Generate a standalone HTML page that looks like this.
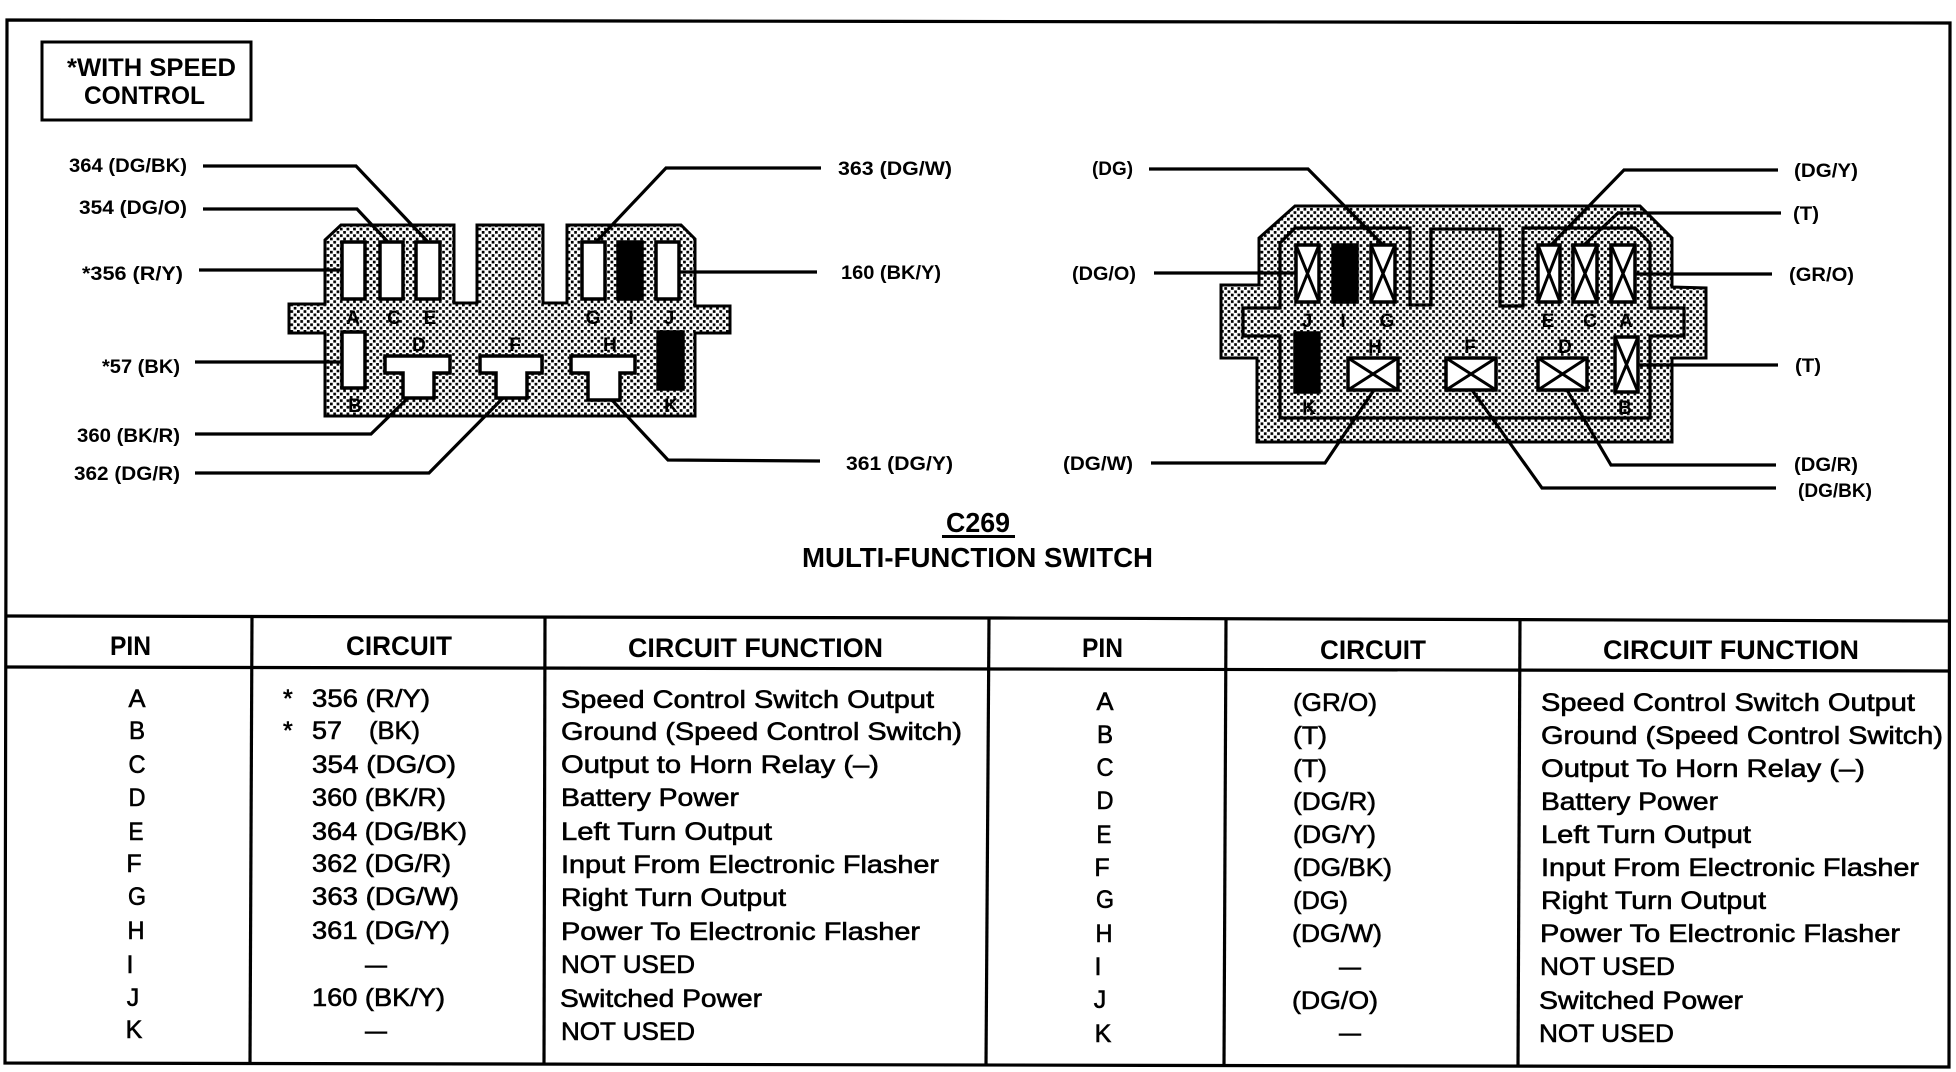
<!DOCTYPE html>
<html><head><meta charset="utf-8"><title>C269 Multi-Function Switch</title>
<style>
html,body{margin:0;padding:0;background:#fff}
svg{display:block}
text{font-family:"Liberation Sans",Arial,sans-serif;fill:#000}
.n{font-size:25px;stroke:#000;stroke-width:.6px}
.h{font-size:27px;font-weight:bold}
.l{font-size:19px;font-weight:bold}
.p{font-size:19px;font-weight:bold;text-anchor:middle}
.w{fill:none;stroke:#000;stroke-width:3.2;stroke-linejoin:miter}
.c{text-anchor:middle}
.pin{fill:#fff;stroke:#000;stroke-width:3.5}
.x{stroke:#000;stroke-width:3;fill:none}
</style></head><body>
<svg xmlns="http://www.w3.org/2000/svg" width="1956" height="1072" viewBox="0 0 1956 1072">
<defs>
<pattern id="s" width="6.6" height="6.6" patternUnits="userSpaceOnUse">
<rect width="6.6" height="6.6" fill="#fff"/>
<rect x="0" y="0" width="2.7" height="2.7" fill="#000"/>
<rect x="3.3" y="3.3" width="2.7" height="2.7" fill="#000"/>
</pattern>
</defs>
<rect width="1956" height="1072" fill="#fff"/>

<!-- frame -->
<polygon class="w" points="7,20 1950,23 1949,1067 5,1063"/>
<!-- note box -->
<rect x="42" y="42" width="209" height="78" fill="#fff" stroke="#000" stroke-width="3"/>
<text x="67" y="76" font-size="25" font-weight="bold" textLength="169" lengthAdjust="spacingAndGlyphs">*WITH SPEED</text>
<text x="84" y="104" font-size="25" font-weight="bold" textLength="121" lengthAdjust="spacingAndGlyphs">CONTROL</text>

<!-- left connector -->
<polygon points="325,240 341,225 454,225 454,303 477,303 477,225 543,225 543,303 567,303 567,225 681,225 695,239 695,306 730,306 730,333 695,333 695,416 325,416 325,333 289,333 289,304 325,304" fill="url(#s)" stroke="#000" stroke-width="3"/>
<g class="pin">
<rect x="342" y="242" width="23" height="57"/>
<rect x="380" y="242" width="23" height="57"/>
<rect x="416" y="242" width="24" height="57"/>
<rect x="582" y="242" width="23" height="57"/>
<rect x="618" y="242" width="24" height="57" fill="#000"/>
<rect x="656" y="242" width="23" height="57"/>
<rect x="342" y="332" width="23" height="56"/>
<rect x="658" y="332" width="25" height="57" fill="#000"/>
<polygon points="385,356 450,356 450,373 434,373 434,398 403,398 403,373 385,373"/>
<polygon points="480,356 542,356 542,373 527,373 527,398 496,398 496,373 480,373"/>
<polygon points="571,356 635,356 635,373 620,373 620,400 588,400 588,373 571,373"/>
</g>
<text class="p" x="353" y="324">A</text><text class="p" x="394" y="324">C</text><text class="p" x="430" y="324">E</text>
<text class="p" x="593" y="324">G</text><text class="p" x="631" y="324">I</text><text class="p" x="669" y="324">J</text>
<text class="p" x="419" y="351">D</text><text class="p" x="515" y="351">F</text><text class="p" x="610" y="351">H</text>
<text class="p" x="355" y="412">B</text><text class="p" x="671" y="412">K</text>

<!-- left connector leaders -->
<g class="w">
<polyline points="203,166 356,166 428,242"/>
<polyline points="203,209 357,209 388,242"/>
<polyline points="199,270 341,270"/>
<polyline points="195,362 341,362"/>
<polyline points="195,434 371,434 408,398"/>
<polyline points="195,473 429,473 503,398"/>
<polyline points="596,242 666,168 821,168"/>
<polyline points="679,272 817,272"/>
<polyline points="612,400 668,460 820,461"/>
</g>
<g class="l">
<text x="69" y="172" textLength="118" lengthAdjust="spacingAndGlyphs">364 (DG/BK)</text>
<text x="79" y="214" textLength="108" lengthAdjust="spacingAndGlyphs">354 (DG/O)</text>
<text x="82" y="280" textLength="101" lengthAdjust="spacingAndGlyphs">*356 (R/Y)</text>
<text x="102" y="373" textLength="78" lengthAdjust="spacingAndGlyphs">*57 (BK)</text>
<text x="77" y="442" textLength="103" lengthAdjust="spacingAndGlyphs">360 (BK/R)</text>
<text x="74" y="480" textLength="106" lengthAdjust="spacingAndGlyphs">362 (DG/R)</text>
<text x="838" y="175" textLength="114" lengthAdjust="spacingAndGlyphs">363 (DG/W)</text>
<text x="841" y="279" textLength="100" lengthAdjust="spacingAndGlyphs">160 (BK/Y)</text>
<text x="846" y="470" textLength="107" lengthAdjust="spacingAndGlyphs">361 (DG/Y)</text>
</g>

<!-- right connector -->
<polygon points="1295,206 1640,206 1672,238 1672,287 1706,288 1706,358 1672,358 1672,442 1257,442 1257,358 1221,358 1221,285 1259,285 1259,238" fill="url(#s)" stroke="#000" stroke-width="3"/>
<polygon class="w" points="1410,228 1295,228 1280,243 1280,308 1243,308 1243,336 1280,336 1280,418 1650,418 1650,336 1684,336 1684,308 1650,308 1650,243 1635,228 1523,228 1523,306 1500,306 1500,229 1431,229 1431,305 1410,305"/>
<g class="pin">
<rect x="1296" y="245" width="23" height="57"/>
<rect x="1333" y="245" width="24" height="57" fill="#000"/>
<rect x="1371" y="245" width="24" height="57"/>
<rect x="1538" y="245" width="22" height="57"/>
<rect x="1573" y="245" width="24" height="57"/>
<rect x="1611" y="245" width="24" height="57"/>
<rect x="1615" y="337" width="23" height="55"/>
<rect x="1295" y="333" width="24" height="59" fill="#000"/>
<rect x="1348" y="358" width="50" height="32"/>
<rect x="1446" y="358" width="50" height="32"/>
<rect x="1538" y="358" width="49" height="32"/>
</g>
<g class="x">
<path d="M1296,245L1319,302M1319,245L1296,302"/>
<path d="M1371,245L1395,302M1395,245L1371,302"/>
<path d="M1538,245L1560,302M1560,245L1538,302"/>
<path d="M1573,245L1597,302M1597,245L1573,302"/>
<path d="M1611,245L1635,302M1635,245L1611,302"/>
<path d="M1615,337L1638,392M1638,337L1615,392"/>
<path d="M1348,358L1398,390M1398,358L1348,390"/>
<path d="M1446,358L1496,390M1496,358L1446,390"/>
<path d="M1538,358L1587,390M1587,358L1538,390"/>
</g>
<text class="p" x="1307" y="327">J</text><text class="p" x="1343" y="327">I</text><text class="p" x="1387" y="327">G</text>
<text class="p" x="1548" y="327">E</text><text class="p" x="1590" y="327">C</text><text class="p" x="1626" y="327">A</text>
<text class="p" x="1375" y="353">H</text><text class="p" x="1470" y="353">F</text><text class="p" x="1565" y="353">D</text>
<text class="p" x="1309" y="414">K</text><text class="p" x="1625" y="414">B</text>

<g class="w">
<polyline points="1149,169 1308,169 1383,245"/>
<polyline points="1154,273 1296,273"/>
<polyline points="1151,463 1325,463 1374,390"/>
<polyline points="1778,170 1624,170 1551,245"/>
<polyline points="1781,213 1618,213 1584,245"/>
<polyline points="1772,274 1635,274"/>
<polyline points="1778,365 1638,365"/>
<polyline points="1776,465 1611,465 1567,390"/>
<polyline points="1776,488 1542,488 1472,390"/>
</g>
<g class="l">
<text x="1092" y="175" textLength="41" lengthAdjust="spacingAndGlyphs">(DG)</text>
<text x="1072" y="280" textLength="64" lengthAdjust="spacingAndGlyphs">(DG/O)</text>
<text x="1063" y="470" textLength="70" lengthAdjust="spacingAndGlyphs">(DG/W)</text>
<text x="1794" y="177" textLength="64" lengthAdjust="spacingAndGlyphs">(DG/Y)</text>
<text x="1793" y="220" textLength="26" lengthAdjust="spacingAndGlyphs">(T)</text>
<text x="1789" y="281" textLength="65" lengthAdjust="spacingAndGlyphs">(GR/O)</text>
<text x="1795" y="372" textLength="26" lengthAdjust="spacingAndGlyphs">(T)</text>
<text x="1794" y="471" textLength="64" lengthAdjust="spacingAndGlyphs">(DG/R)</text>
<text x="1798" y="497" textLength="74" lengthAdjust="spacingAndGlyphs">(DG/BK)</text>
</g>

<!-- title -->
<text x="946" y="532" font-size="28" font-weight="bold" textLength="64" lengthAdjust="spacingAndGlyphs">C269</text>
<rect x="942" y="535" width="73" height="3" fill="#000"/>
<text x="802" y="567" font-size="28" font-weight="bold" textLength="351" lengthAdjust="spacingAndGlyphs">MULTI-FUNCTION SWITCH</text>

<!-- table lines -->
<g class="w">
<polyline points="6,616 1000,618 1950,621"/>
<polyline points="6,667 1000,669 1950,671"/>
<line x1="252" y1="616" x2="250" y2="1063"/>
<line x1="545" y1="617" x2="544" y2="1064"/>
<line x1="989" y1="618" x2="986" y2="1065"/>
<line x1="1226" y1="619" x2="1224" y2="1066"/>
<line x1="1520" y1="620" x2="1518" y2="1066"/>
</g>

<!-- headers -->
<g class="h">
<text x="110" y="655" textLength="41" lengthAdjust="spacingAndGlyphs">PIN</text>
<text x="346" y="655" textLength="106" lengthAdjust="spacingAndGlyphs">CIRCUIT</text>
<text x="628" y="657" textLength="255" lengthAdjust="spacingAndGlyphs">CIRCUIT FUNCTION</text>
<text x="1082" y="657" textLength="41" lengthAdjust="spacingAndGlyphs">PIN</text>
<text x="1320" y="659" textLength="106" lengthAdjust="spacingAndGlyphs">CIRCUIT</text>
<text x="1603" y="659" textLength="256" lengthAdjust="spacingAndGlyphs">CIRCUIT FUNCTION</text>
</g>

<!-- left table -->
<g class="n">
<g class="c">
<text x="137" y="707" textLength="17" lengthAdjust="spacingAndGlyphs">A</text><text x="137" y="739" textLength="16" lengthAdjust="spacingAndGlyphs">B</text><text x="137" y="773" textLength="17" lengthAdjust="spacingAndGlyphs">C</text><text x="137" y="806" textLength="17" lengthAdjust="spacingAndGlyphs">D</text><text x="136" y="840" textLength="15" lengthAdjust="spacingAndGlyphs">E</text><text x="134" y="872">F</text><text x="137" y="905" textLength="18" lengthAdjust="spacingAndGlyphs">G</text><text x="136" y="939" textLength="17" lengthAdjust="spacingAndGlyphs">H</text><text x="130" y="973">I</text><text x="133" y="1006">J</text><text x="134" y="1038">K</text>
</g>
<text x="283" y="707">*</text><text x="283" y="739">*</text>
<text x="312" y="707" textLength="118" lengthAdjust="spacingAndGlyphs">356 (R/Y)</text>
<text x="312" y="739" textLength="30" lengthAdjust="spacingAndGlyphs">57</text>
<text x="369" y="739" textLength="51" lengthAdjust="spacingAndGlyphs">(BK)</text>
<text x="312" y="773" textLength="144" lengthAdjust="spacingAndGlyphs">354 (DG/O)</text>
<text x="312" y="806" textLength="134" lengthAdjust="spacingAndGlyphs">360 (BK/R)</text>
<text x="312" y="840" textLength="155" lengthAdjust="spacingAndGlyphs">364 (DG/BK)</text>
<text x="312" y="872" textLength="139" lengthAdjust="spacingAndGlyphs">362 (DG/R)</text>
<text x="312" y="905" textLength="147" lengthAdjust="spacingAndGlyphs">363 (DG/W)</text>
<text x="312" y="939" textLength="138" lengthAdjust="spacingAndGlyphs">361 (DG/Y)</text>
<text x="365" y="973" textLength="22" lengthAdjust="spacingAndGlyphs">—</text>
<text x="312" y="1006" textLength="133" lengthAdjust="spacingAndGlyphs">160 (BK/Y)</text>
<text x="365" y="1039" textLength="22" lengthAdjust="spacingAndGlyphs">—</text>

<text x="561" y="708" textLength="373" lengthAdjust="spacingAndGlyphs">Speed Control Switch Output</text>
<text x="561" y="740" textLength="401" lengthAdjust="spacingAndGlyphs">Ground (Speed Control Switch)</text>
<text x="561" y="773" textLength="318" lengthAdjust="spacingAndGlyphs">Output to Horn Relay (–)</text>
<text x="561" y="806" textLength="178" lengthAdjust="spacingAndGlyphs">Battery Power</text>
<text x="561" y="840" textLength="211" lengthAdjust="spacingAndGlyphs">Left Turn Output</text>
<text x="561" y="873" textLength="378" lengthAdjust="spacingAndGlyphs">Input From Electronic Flasher</text>
<text x="561" y="906" textLength="225" lengthAdjust="spacingAndGlyphs">Right Turn Output</text>
<text x="561" y="940" textLength="359" lengthAdjust="spacingAndGlyphs">Power To Electronic Flasher</text>
<text x="561" y="973" textLength="134" lengthAdjust="spacingAndGlyphs">NOT USED</text>
<text x="560" y="1007" textLength="202" lengthAdjust="spacingAndGlyphs">Switched Power</text>
<text x="561" y="1040" textLength="134" lengthAdjust="spacingAndGlyphs">NOT USED</text>
</g>

<!-- right table -->
<g class="n">
<g class="c">
<text x="1105" y="710" textLength="17" lengthAdjust="spacingAndGlyphs">A</text><text x="1105" y="743" textLength="16" lengthAdjust="spacingAndGlyphs">B</text><text x="1105" y="776" textLength="17" lengthAdjust="spacingAndGlyphs">C</text><text x="1105" y="809" textLength="17" lengthAdjust="spacingAndGlyphs">D</text><text x="1104" y="843" textLength="15" lengthAdjust="spacingAndGlyphs">E</text><text x="1102" y="876">F</text><text x="1105" y="908" textLength="18" lengthAdjust="spacingAndGlyphs">G</text><text x="1104" y="942" textLength="17" lengthAdjust="spacingAndGlyphs">H</text><text x="1098" y="975">I</text><text x="1100" y="1008">J</text><text x="1103" y="1042">K</text>
</g>
<text x="1293" y="711" textLength="84" lengthAdjust="spacingAndGlyphs">(GR/O)</text>
<text x="1293" y="744" textLength="34" lengthAdjust="spacingAndGlyphs">(T)</text>
<text x="1293" y="777" textLength="34" lengthAdjust="spacingAndGlyphs">(T)</text>
<text x="1293" y="810" textLength="83" lengthAdjust="spacingAndGlyphs">(DG/R)</text>
<text x="1293" y="843" textLength="83" lengthAdjust="spacingAndGlyphs">(DG/Y)</text>
<text x="1293" y="876" textLength="99" lengthAdjust="spacingAndGlyphs">(DG/BK)</text>
<text x="1293" y="909" textLength="55" lengthAdjust="spacingAndGlyphs">(DG)</text>
<text x="1292" y="942" textLength="90" lengthAdjust="spacingAndGlyphs">(DG/W)</text>
<text x="1339" y="975" textLength="22" lengthAdjust="spacingAndGlyphs">—</text>
<text x="1292" y="1009" textLength="86" lengthAdjust="spacingAndGlyphs">(DG/O)</text>
<text x="1339" y="1041" textLength="22" lengthAdjust="spacingAndGlyphs">—</text>

<text x="1541" y="711" textLength="374" lengthAdjust="spacingAndGlyphs">Speed Control Switch Output</text>
<text x="1541" y="744" textLength="402" lengthAdjust="spacingAndGlyphs">Ground (Speed Control Switch)</text>
<text x="1541" y="777" textLength="324" lengthAdjust="spacingAndGlyphs">Output To Horn Relay (–)</text>
<text x="1541" y="810" textLength="177" lengthAdjust="spacingAndGlyphs">Battery Power</text>
<text x="1541" y="843" textLength="210" lengthAdjust="spacingAndGlyphs">Left Turn Output</text>
<text x="1541" y="876" textLength="378" lengthAdjust="spacingAndGlyphs">Input From Electronic Flasher</text>
<text x="1541" y="909" textLength="225" lengthAdjust="spacingAndGlyphs">Right Turn Output</text>
<text x="1540" y="942" textLength="360" lengthAdjust="spacingAndGlyphs">Power To Electronic Flasher</text>
<text x="1540" y="975" textLength="135" lengthAdjust="spacingAndGlyphs">NOT USED</text>
<text x="1539" y="1009" textLength="204" lengthAdjust="spacingAndGlyphs">Switched Power</text>
<text x="1539" y="1042" textLength="135" lengthAdjust="spacingAndGlyphs">NOT USED</text>
</g>
</svg>
</body></html>
